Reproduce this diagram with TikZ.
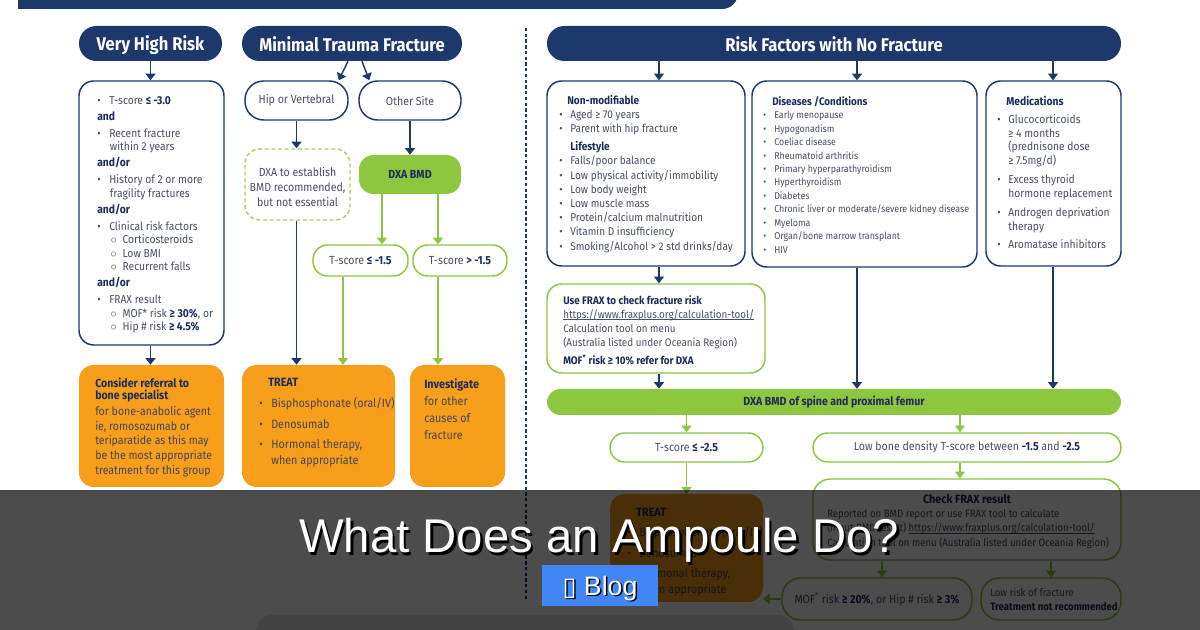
\documentclass[tikz,border=0pt]{standalone}
\usepackage{fontspec}
\setmainfont{Fira Sans}[FakeStretch=0.9]
\newfontfamily\ovfont{Liberation Sans}
\newfontfamily\symfont{DejaVu Sans}
\usetikzlibrary{arrows.meta,fit,calc}
\definecolor{navy}{RGB}{29,57,108}
\definecolor{navyt}{RGB}{27,45,90}
\definecolor{txtc}{RGB}{72,80,100}
\definecolor{otxt}{RGB}{70,70,85}
\definecolor{grn}{RGB}{141,198,63}
\definecolor{grnl}{RGB}{170,205,105}
\definecolor{org}{RGB}{247,158,27}
\definecolor{blogblue}{RGB}{66,133,244}
\newcommand\nb[1]{{\bfseries\color{navyt}#1}}
\newcommand\bl[1][9pt]{\makebox[#1][l]{\textbullet}}
\newcommand\sbl{\hspace*{10pt}\makebox[9pt][l]{$\circ$}}
\newcommand\ulink[1]{\setbox0\hbox{#1}\rlap{\rule[-1.4pt]{\wd0}{0.45pt}}\box0}
\begin{document}
\begin{tikzpicture}[x=0.75pt,y=-0.75pt,
  txt/.style={inner sep=0pt, align=left, text=txtc, font=\fontsize{8.6}{10.1}\selectfont},
  hdr/.style={fill=navy, rounded corners=13pt, inner sep=0pt},
  hdrt/.style={inner sep=0pt, text=white, font=\fontsize{13.8}{15}\selectfont\bfseries},
  nbox/.style={draw=navy, line width=1.1pt, fill=white, rounded corners=11pt, inner sep=0pt},
  gbox/.style={draw=grn, line width=1.1pt, fill=white, rounded corners=11pt, inner sep=0pt},
  npill/.style={draw=navy, line width=1.1pt, fill=white, rounded corners=14pt, inner sep=0pt},
  gpill/.style={draw=grn, line width=1.1pt, fill=white, rounded corners=11pt, inner sep=0pt},
  pillt/.style={inner sep=0pt, text=txtc, font=\fontsize{8.8}{10}\selectfont},
  gfill/.style={fill=grn, inner sep=0pt},
  gfillt/.style={inner sep=0pt, text=navyt, font=\fontsize{8.8}{10}\selectfont\bfseries},
  obox/.style={fill=org, rounded corners=11pt, inner sep=0pt},
  na/.style={draw=navy, line width=1.1pt, -{Triangle[width=7.5pt,length=5pt]}},
  ga/.style={draw=grn, line width=1.1pt, -{Triangle[width=7.5pt,length=5pt]}},
  sep/.style={draw=navy, line width=0.8pt, dash pattern=on 2.5pt off 1.8pt}
]
\useasboundingbox (0,0) rectangle (1200,630);
\fill[white] (0,0) rectangle (1200,630);

% top banner
\fill[navy, rounded corners=12pt] (18,-40) rectangle (738,9);
\fill[navy] (18,-40) rectangle (60,9);

% separator
\draw[sep] (526,28) -- (526,600);

% headers
\node[hdr, fit={(79,26) (222,61)}] (vhrH) {};
\node[hdrt] (vhrHt) at ($(vhrH.center)+(0,1.5)$) {Very High Risk};
\node[hdr, fit={(242,26) (462,61)}] (mtfH) {};
\node[hdrt] (mtfHt) at ($(mtfH.center)+(0,1)$) {Minimal Trauma Fracture};
\node[hdr, fit={(547,26) (1121,61)}] (rfH) {};
\node[hdrt] (rfHt) at ($(rfH.center)+(0,1)$) {Risk Factors with No Fracture};

% ===== Very high risk column
\node[nbox, fit={(79,81) (224,345)}] (vhr) {};
\node[txt, anchor=north west] (vhrT) at (97,96) {%
\bl T-score \nb{≤ -3.0}\\[2pt]
\nb{and}\\[2.6pt]
\bl Recent fracture\\
\hspace*{9.5pt}within 2 years\\[2pt]
\nb{and/or}\\[2.6pt]
\bl History of 2 or more\\
\hspace*{9.5pt}fragility fractures\\[2pt]
\nb{and/or}\\[2.6pt]
\bl Clinical risk factors\\
\sbl Corticosteroids\\
\sbl Low BMI\\
\sbl Recurrent falls\\[2pt]
\nb{and/or}\\[2.6pt]
\bl FRAX result\\
\sbl MOF* risk \nb{≥ 30\%}, or\\
\sbl Hip \# risk \nb{≥ 4.5\%}};
\node[obox, fit={(79,365) (224,487)}] (vref) {};
\node[txt, anchor=north west, text=navyt, font=\fontsize{8.8}{9}\selectfont\bfseries] (vrefH) at (95,378) {Consider referral to\\bone specialist};
\node[txt, anchor=north west, font=\fontsize{8.8}{11}\selectfont, text=otxt] (vrefT) at (95,406) {for bone-anabolic agent\\ie, romosozumab or\\teriparatide as this may\\be the most appropriate\\treatment for this group};
\draw[na] (vhrH.south) -- (vhrH.south |- vhr.north);
\draw[na] (vhrH.south |- vhr.south) -- (vhrH.south |- vref.north);

% ===== Minimal trauma column
\node[npill, fit={(245,81) (348,120)}] (hip) {};
\node[pillt] (hipt) at (hip.center) {Hip or Vertebral};
\node[npill, fit={(359,81) (461,120)}] (oth) {};
\node[pillt] (otht) at (oth.center) {Other Site};
\draw[na] ($(mtfH.south)+(-4,0)$) -- ($(hip.north east)+(-10,0)$);
\draw[na] ($(mtfH.south)+(10,0)$) -- ($(oth.north west)+(11,0)$);
\node[draw=grnl, dash pattern=on 3pt off 2pt, line width=1.1pt, rounded corners=11pt, inner sep=0pt, fit={(245,149) (350,220)}] (dxa1) {};
\node[inner sep=0pt, align=center, text=txtc, font=\fontsize{8.8}{11.25}\selectfont] (dxa1t) at ($(dxa1.center)+(0,2)$) {DXA to establish\\BMD recommended,\\but not essential};
\node[gfill, rounded corners=11pt, fit={(359,155) (461,194)}] (dxab) {};
\node[gfillt] (dxabt) at (dxab.center) {DXA BMD};
\node[gpill, fit={(313,245) (408,276)}] (tle) {};
\node[pillt] (tlet) at (tle.center) {T-score \nb{≤ -1.5}};
\node[gpill, fit={(413,245) (507,276)}] (tgt) {};
\node[pillt] (tgtt) at (tgt.center) {T-score \nb{> -1.5}};
\node[obox, fit={(242,365) (395,487)}] (tr1) {};
\node[obox, fit={(410,365) (505,487)}] (inv) {};
\draw[na] (hip.south) -- (hip.south |- dxa1.north);
\draw[na] (oth.south) -- (oth.south |- dxab.north);
\coordinate (d1) at ($(dxab.south)+(-28,0)$);
\coordinate (d2) at ($(dxab.south)+(28,0)$);
\draw[ga] (d1) -- (d1 |- tle.north);
\draw[ga] (d2) -- (d2 |- tgt.north);
\draw[na] (hip.south |- dxa1.south) -- (hip.south |- tr1.north);
\coordinate (d3) at ($(tle.south)+(-17.5,0)$);
\draw[ga] (d3) -- (d3 |- tr1.north);
\draw[ga] (d2 |- tgt.south) -- (d2 |- inv.north);
\node[txt, anchor=north west, text=navyt, font=\fontsize{9}{10}\selectfont\bfseries] (tr1H) at (268,378) {TREAT};
\node[txt, anchor=north west, font=\fontsize{9}{12}\selectfont, text=otxt] (tr1T) at (259,397) {\bl Bisphosphonate (oral/IV)\\[3.5pt]\bl Denosumab\\[3pt]\bl Hormonal therapy,\\\hspace*{9pt}when appropriate};
\node[txt, anchor=north west, text=navyt, font=\fontsize{9}{10}\selectfont\bfseries] (invH) at (424,379) {Investigate};
\node[txt, anchor=north west, font=\fontsize{9}{13}\selectfont, text=otxt] (invT) at (424,396) {for other\\causes of\\fracture};

% ===== Right column
\node[nbox, fit={(547,81) (745,266)}] (nm) {};
\node[nbox, fit={(752,81) (977,267)}] (dis) {};
\node[nbox, fit={(986,81) (1121,266)}] (med) {};
\draw[na] (rfH.south -| 659,0) -- (nm.north -| 659,0);
\draw[na] (rfH.south -| 857,0) -- (dis.north -| 857,0);
\draw[na] (rfH.south -| 1053,0) -- (med.north -| 1053,0);
\node[txt, anchor=north west, font=\fontsize{8.4}{10.65}\selectfont] (nmT) at (559,95) {%
\hspace*{6pt}\nb{Non-modifiable}\\
\bl[8.25pt]Aged ≥ 70 years\\
\bl[8.25pt]Parent with hip fracture\\[2.8pt]
\hspace*{8.25pt}\nb{Lifestyle}\\
\bl[8.25pt]Falls/poor balance\\
\bl[8.25pt]Low physical activity/immobility\\
\bl[8.25pt]Low body weight\\
\bl[8.25pt]Low muscle mass\\
\bl[8.25pt]Protein/calcium malnutrition\\
\bl[8.25pt]Vitamin D insufficiency\\
\bl[8.25pt]Smoking/Alcohol > 2 std drinks/day};
\node[txt, anchor=north west, font=\fontsize{7.4}{10.1}\selectfont] (disT) at (763,96) {%
\hspace*{6.75pt}{\fontsize{8.2}{10.1}\selectfont\nb{Diseases /Conditions}}\\
\bl[8.25pt]Early menopause\\
\bl[8.25pt]Hypogonadism\\
\bl[8.25pt]Coeliac disease\\
\bl[8.25pt]Rheumatoid arthritis\\
\bl[8.25pt]Primary hyperparathyroidism\\
\bl[8.25pt]Hyperthyroidism\\
\bl[8.25pt]Diabetes\\
\bl[8.25pt]Chronic liver or moderate/severe kidney disease\\
\bl[8.25pt]Myeloma\\
\bl[8.25pt]Organ/bone marrow transplant\\
\bl[8.25pt]HIV};
\node[txt, anchor=north west, font=\fontsize{8.6}{10.3}\selectfont] (medT) at (997,96) {%
\hspace*{6.75pt}\nb{Medications}\\[3pt]
\bl[8.25pt]Glucocorticoids\\
\hspace*{8.25pt}≥ 4 months\\
\hspace*{8.25pt}(prednisone dose\\
\hspace*{8.25pt}≥ 7.5mg/d)\\[4pt]
\bl[8.25pt]Excess thyroid\\
\hspace*{8.25pt}hormone replacement\\[4pt]
\bl[8.25pt]Androgen deprivation\\
\hspace*{8.25pt}therapy\\[3.5pt]
\bl[8.25pt]Aromatase inhibitors};

\node[gbox, fit={(547,284) (765,373)}] (frax) {};
\draw[na] (nm.south -| 659,0) -- (frax.north -| 659,0);
\node[txt, anchor=north west, font=\fontsize{8.2}{10.5}\selectfont] (fraxT) at (563,295) {%
\nb{Use FRAX to check fracture risk}\\
\ulink{https://www.fraxplus.org/calculation-tool/}\\
Calculation tool on menu\\
(Australia listed under Oceania Region)\\[3pt]
\nb{MOF\textsuperscript{*} risk ≥ 10\% refer for DXA}};

\node[gfill, rounded corners=10pt, fit={(547,389) (1121,415)}] (dxs) {};
\node[gfillt] (dxst) at (dxs.center) {DXA BMD of spine and proximal femur};
\draw[na] (frax.south -| 659,0) -- (dxs.north -| 659,0);
\draw[na] (dis.south -| 857,0) -- (dxs.north -| 857,0);
\draw[na] (med.south -| 1053,0) -- (dxs.north -| 1053,0);

\node[gpill, fit={(610,433) (763,462)}] (t25) {};
\node[pillt] (t25t) at (t25.center) {T-score \nb{≤ -2.5}};
\node[gpill, fit={(813,433) (1121,462)}] (lbd) {};
\node[pillt] (lbdt) at (lbd.center) {Low bone density T-score between \nb{-1.5} and \nb{-2.5}};
\draw[ga] (dxs.south -| t25.north) -- (t25.north);
\draw[ga] (dxs.south -| 960,0) -- (lbd.north -| 960,0);

\node[obox, fit={(610,494) (763,602)}] (tr2) {};
\draw[ga] (t25.south) -- (t25.south |- tr2.north);
\node[txt, anchor=north west, text=navyt, font=\fontsize{9}{10}\selectfont\bfseries] (tr2H) at (636,508) {TREAT};
\node[txt, anchor=north west, font=\fontsize{9}{12}\selectfont, text=otxt] (tr2T) at (627,526) {\bl Bisphosphonate (oral/IV)\\[3.5pt]\bl Denosumab\\[3pt]\bl Hormonal therapy,\\\hspace*{9pt}when appropriate};

\node[gbox, rounded corners=13pt, fit={(813,479) (1121,560)}] (cfr) {};
\draw[ga] (lbd.south -| 960,0) -- (cfr.north -| 960,0);
\node[inner sep=0pt, text=navyt, font=\fontsize{9}{10}\selectfont\bfseries] (cfrH) at (967,499) {Check FRAX result};
\node[txt, anchor=north west, font=\fontsize{8}{10.9}\selectfont] (cfrT) at (827,509) {%
Reported on BMD report or use FRAX tool to calculate\\
(input BMD result) \ulink{https://www.fraxplus.org/calculation-tool/}\\
Calculation tool on menu (Australia listed under Oceania Region)};

\node[gpill, rounded corners=14pt, fit={(782,578) (972,620)}] (mof) {};
\node[pillt] (moft) at (mof.center) {MOF\textsuperscript{*} risk \nb{≥ 20\%}, or Hip \# risk \nb{≥ 3\%}};
\node[gbox, rounded corners=14pt, fit={(981,578) (1121,620)}] (low) {};
\node[txt, anchor=north west, font=\fontsize{8}{10.5}\selectfont] (lowT) at (990,588) {Low risk of fracture\\\nb{Treatment not recommended}};
\draw[ga] (cfr.south -| 882,0) -- (mof.north -| 882,0);
\draw[ga] (cfr.south -| 1051,0) -- (low.north);
\draw[ga] (mof.west) -- (mof.west -| tr2.east);

% bottom box (partly hidden)
\node[fill=gray!22, rounded corners=12pt, inner sep=0pt, fit={(256,615) (794,660)}] (botbox) {};

% ===== overlay
\fill[black, opacity=0.7] (0,490) rectangle (1200,630);
\node[anchor=base, inner sep=0pt, text=black, font=\ovfont\fontsize{35.5}{40}\selectfont] (titleS) at (601.5,555.5) {What Does an Ampoule Do?};
\node[anchor=base, inner sep=0pt, text=white, font=\ovfont\fontsize{35.5}{40}\selectfont] (title) at (599,553) {What Does an Ampoule Do?};
\node[fill=blogblue, inner sep=0pt, fit={(542,565) (658,606)}] (blog) {};
\node[anchor=base, inner sep=0pt, text=black, font=\ovfont\fontsize{20}{22}\selectfont] (blogS) at (601.5,596.5) {{\symfont\fontsize{19}{20}\selectfont ▯} Blog};
\node[anchor=base, inner sep=0pt, text=white, font=\ovfont\fontsize{20}{22}\selectfont] (blogT) at (600,595) {{\symfont\fontsize{19}{20}\selectfont ▯} Blog};
\end{tikzpicture}
\end{document}
